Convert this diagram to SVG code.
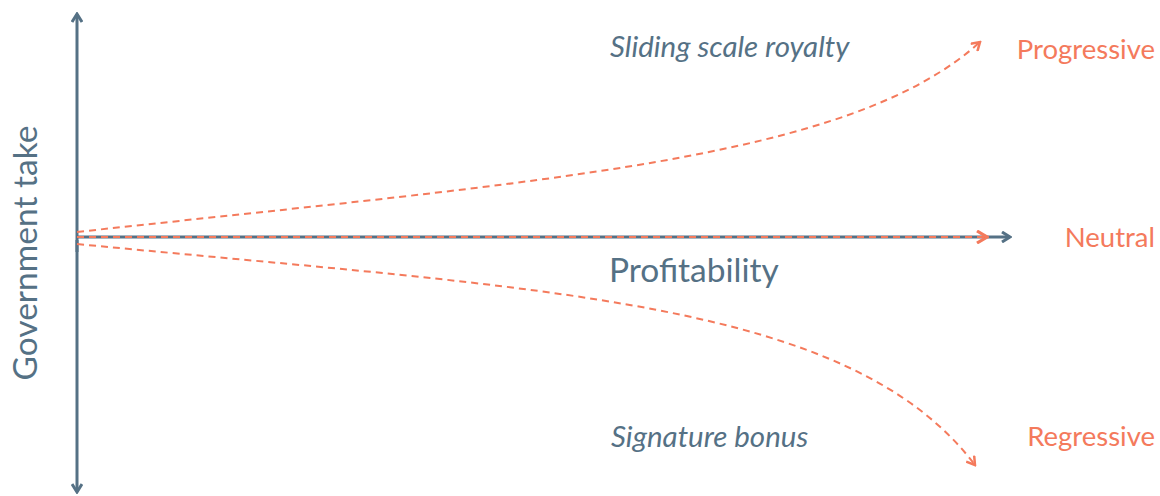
<svg xmlns="http://www.w3.org/2000/svg" width="1160" height="496" viewBox="0 0 1160 496">
<style>
.axis{stroke:#557185;stroke-width:3;fill:none}
.dash{stroke:#f47a5c;stroke-width:2;fill:none;stroke-dasharray:7 5}
.lbl{font-family:Lato,"Liberation Sans",sans-serif;fill:#f47a5c;font-size:27.5px;text-anchor:end}
.ital{font-family:Lato,"Liberation Sans",sans-serif;fill:#557185;font-size:29.5px;font-style:italic}
.ax{font-family:Lato,"Liberation Sans",sans-serif;fill:#557185;font-size:33.5px}
</style>
<defs>
<marker id="ab" viewBox="0 0 12 12" refX="10" refY="6" markerWidth="12" markerHeight="12" markerUnits="userSpaceOnUse" orient="auto">
<path d="M2,1 L10,6 L2,11" fill="none" stroke="#557185" stroke-width="3"/>
</marker>
<marker id="ao" viewBox="0 0 12 12" refX="10" refY="6" markerWidth="12" markerHeight="12" markerUnits="userSpaceOnUse" orient="auto">
<path d="M2,1 L10,6 L2,11" fill="none" stroke="#f47a5c" stroke-width="2.5"/>
</marker>
<marker id="aon" viewBox="0 0 14 14" refX="12" refY="7" markerWidth="14" markerHeight="14" markerUnits="userSpaceOnUse" orient="auto">
<path d="M2,1 L12,7 L2,13" fill="none" stroke="#f47a5c" stroke-width="3.2"/>
</marker>
</defs>
<g id="connectors">
<line class="axis" x1="77" y1="252" x2="77" y2="14" marker-end="url(#ab)"/>
<line class="axis" x1="77" y1="240" x2="77" y2="492" marker-end="url(#ab)"/>
<line class="axis" x1="77" y1="237" x2="1010" y2="237" marker-end="url(#ab)"/>
<line class="dash" x1="77" y1="237" x2="987" y2="237" marker-end="url(#aon)"/>
<path class="dash" d="M77,232 C550,180 850,160 980,42" marker-end="url(#ao)"/>
<path class="dash" d="M77,244 C550,290 850,300 975,465" marker-end="url(#ao)"/>
</g>
<g id="progressive"><text class="lbl" x="1155" y="59">Progressive</text></g>
<g id="neutral"><text class="lbl" x="1155" y="247">Neutral</text></g>
<g id="regressive"><text class="lbl" x="1155" y="446">Regressive</text></g>
<g id="sliding"><text class="ital" x="610" y="57">Sliding scale royalty</text></g>
<g id="signature"><text class="ital" x="611" y="447">Signature bonus</text></g>
<g id="profitability"><text class="ax" x="609" y="282">Profitability</text></g>
<g id="govtake"><text class="ax" transform="translate(37,253) rotate(-90)" text-anchor="middle">Government take</text></g>
</svg>
